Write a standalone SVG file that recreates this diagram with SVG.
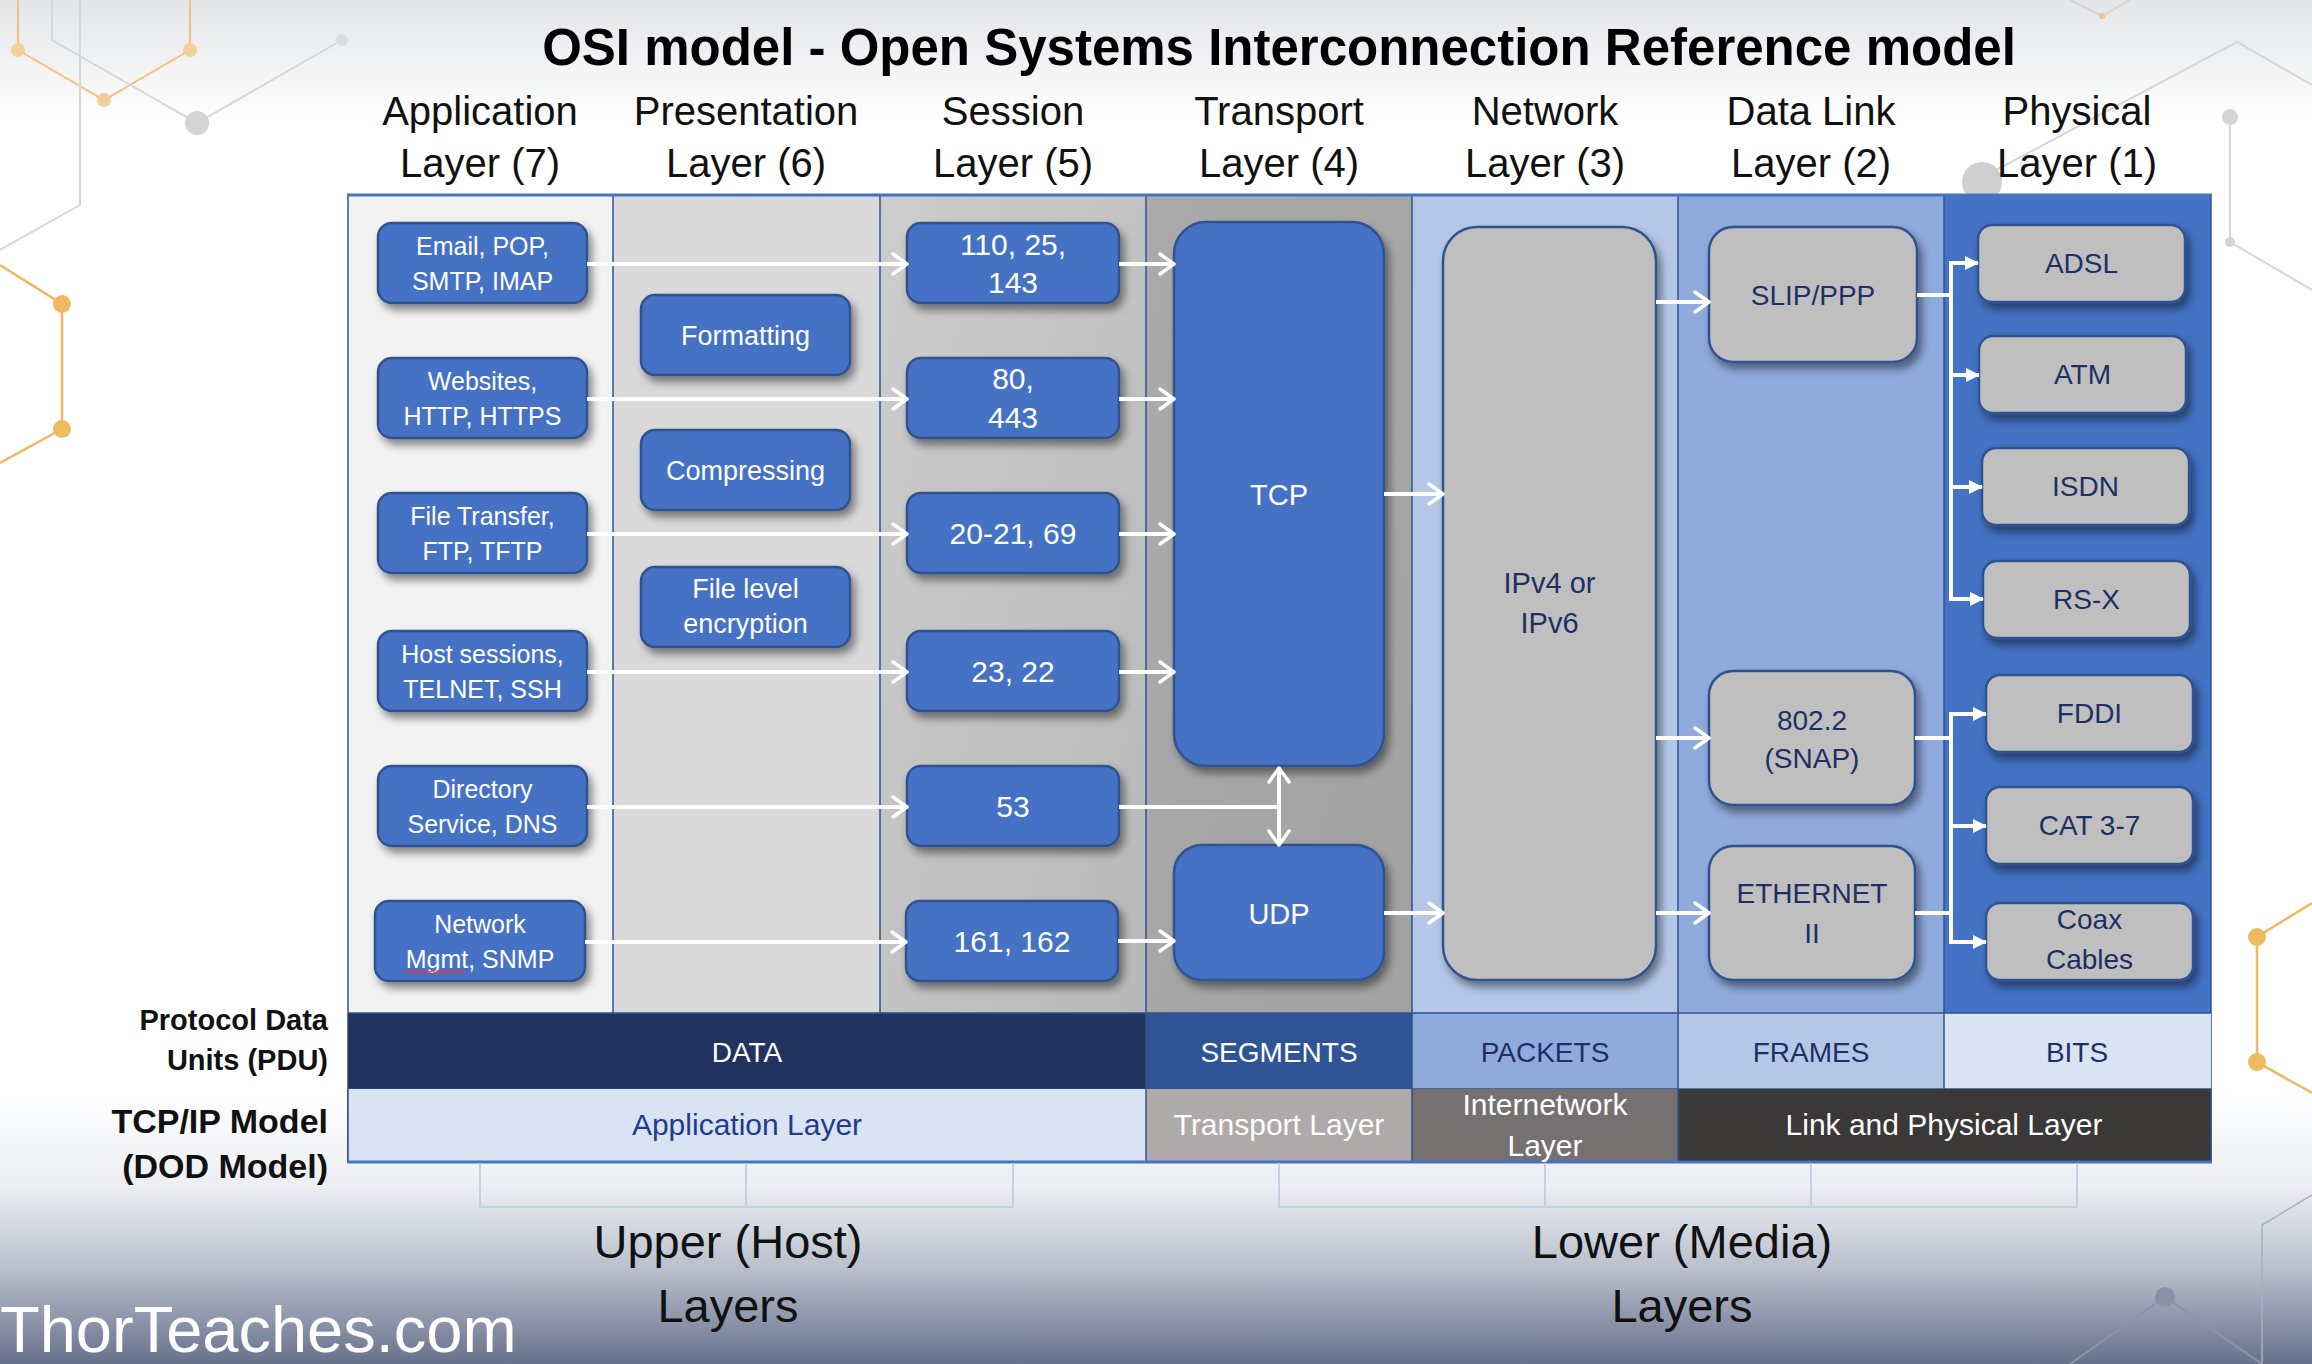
<svg xmlns="http://www.w3.org/2000/svg" width="2312" height="1364" viewBox="0 0 2312 1364" font-family="'Liberation Sans', Arial, sans-serif">
<defs>
<linearGradient id="bg" x1="0" y1="0" x2="0" y2="1">
<stop offset="0" stop-color="#e4e5e7"/>
<stop offset="0.09" stop-color="#ffffff"/>
<stop offset="0.80" stop-color="#ffffff"/>
<stop offset="0.87" stop-color="#eceef2"/>
<stop offset="0.93" stop-color="#b9bfcc"/>
<stop offset="1" stop-color="#66718c"/>
</linearGradient>
<linearGradient id="sess" x1="0" y1="0" x2="1" y2="1">
<stop offset="0" stop-color="#cdcdcd"/>
<stop offset="1" stop-color="#b8b8b8"/>
</linearGradient>
<linearGradient id="trans" x1="0" y1="0" x2="1" y2="1">
<stop offset="0" stop-color="#ababab"/>
<stop offset="1" stop-color="#a2a2a2"/>
</linearGradient>
<filter id="sh" x="-20%" y="-20%" width="150%" height="150%">
<feDropShadow dx="4" dy="6" stdDeviation="4" flood-color="#000" flood-opacity="0.45"/>
</filter>
<marker id="chev" viewBox="0 0 18 24" refX="16" refY="12" markerWidth="18" markerHeight="24" orient="auto-start-reverse" markerUnits="userSpaceOnUse">
<path d="M2,2 L16,12 L2,22" fill="none" stroke="#fff" stroke-width="3.5" stroke-linecap="round" stroke-linejoin="round"/>
</marker>
<marker id="tri" viewBox="0 0 14 14" refX="13" refY="7" markerWidth="14" markerHeight="14" orient="auto" markerUnits="userSpaceOnUse">
<path d="M0,0 L14,7 L0,14 z" fill="#fff"/>
</marker>
<style>
.hd{font-size:40px;fill:#111;text-anchor:middle}
.bb{fill:#4472c4;stroke:#2f528f;stroke-width:2.5;filter:url(#sh)}
.gb{fill:#bfbfbf;stroke:#2f528f;stroke-width:2.5;filter:url(#sh)}
.wt{fill:#fff;text-anchor:middle}
.nt{fill:#1f2f63;text-anchor:middle}
.a{font-size:25px}
.p{font-size:27px}
.s{font-size:30px}
.m{font-size:28px}
.cn{stroke:#fff;stroke-width:4;fill:none}
.ch{marker-end:url(#chev)}
.tr{marker-end:url(#tri)}
.dv{stroke:#2f528f;stroke-width:1.5}
.deco-g{stroke:#d6d6d6;stroke-width:2;fill:none}
.deco-o{stroke:#f2c07a;stroke-width:2;fill:none}
.pdu{font-size:28px;text-anchor:middle}
.tcp{font-size:30px;text-anchor:middle}
.lbl{font-weight:bold;fill:#111;text-anchor:end}
.big{font-size:47px;fill:#111;text-anchor:middle}
.br{stroke:#c5cfe0;stroke-width:2;fill:none}
</style>
</defs>

<rect x="0" y="0" width="2312" height="1364" fill="url(#bg)"/>

<g id="decoration">
<path class="deco-o" d="M18,0 V50 L104,100 L190,50 V0"/>
<circle cx="18" cy="50" r="7" fill="#f3cf9c"/>
<circle cx="104" cy="100" r="7" fill="#f3cf9c"/>
<circle cx="190" cy="50" r="7" fill="#f3cf9c"/>
<path class="deco-g" d="M52,0 V40 L197,123 L342,40"/>
<circle cx="197" cy="123" r="12" fill="#d4d4d4"/>
<circle cx="342" cy="40" r="6" fill="#dcdcdc"/>
<path class="deco-g" d="M80,0 V205 L0,250"/>
<path d="M0,265 L62,304 V429 L0,463" stroke="#f1b95f" stroke-width="2.5" fill="none"/>
<circle cx="62" cy="304" r="9" fill="#f1b95f"/>
<circle cx="62" cy="429" r="9" fill="#f1b95f"/>
<path class="deco-g" d="M2070,0 L2102,16 L2130,0"/>
<circle cx="2102" cy="16" r="3" fill="#e9c39a"/>
<path class="deco-g" d="M1983,177 L2237,42 L2312,85"/>
<circle cx="1982" cy="182" r="20" fill="#cfcfcf"/>
<path class="deco-g" d="M2230,117 V242 L2312,290"/>
<circle cx="2230" cy="117" r="8" fill="#d4d4d4"/>
<circle cx="2230" cy="242" r="5" fill="#d4d4d4"/>
<path d="M2312,903 L2257,937 V1062 L2312,1093" stroke="#f1b95f" stroke-width="2.5" fill="none"/>
<circle cx="2257" cy="937" r="9" fill="#f1b95f"/>
<circle cx="2257" cy="1062" r="9" fill="#f1b95f"/>
<path d="M2070,1364 L2165,1297 L2262,1364" stroke="#8d94aa" stroke-width="2" fill="none"/>
<circle cx="2165" cy="1297" r="10" fill="#8a91a6"/>
<path d="M2262,1364 V1225 L2312,1195" stroke="#a9afc0" stroke-width="1.5" fill="none"/>
</g>

<text id="title" x="1279" y="65" font-size="51" font-weight="bold" fill="#000" text-anchor="middle">OSI model - Open Systems Interconnection Reference model</text>

<g id="headers">
<text class="hd" x="480" y="125">Application</text><text class="hd" x="480" y="177">Layer (7)</text>
<text class="hd" x="746" y="125">Presentation</text><text class="hd" x="746" y="177">Layer (6)</text>
<text class="hd" x="1013" y="125">Session</text><text class="hd" x="1013" y="177">Layer (5)</text>
<text class="hd" x="1279" y="125">Transport</text><text class="hd" x="1279" y="177">Layer (4)</text>
<text class="hd" x="1545" y="125">Network</text><text class="hd" x="1545" y="177">Layer (3)</text>
<text class="hd" x="1811" y="125">Data Link</text><text class="hd" x="1811" y="177">Layer (2)</text>
<text class="hd" x="2077" y="125">Physical</text><text class="hd" x="2077" y="177">Layer (1)</text>
</g>

<g id="table">
<rect x="348" y="195" width="265" height="818" fill="#f2f2f2"/>
<rect x="613" y="195" width="267" height="818" fill="#d9d9d9"/>
<rect x="880" y="195" width="266" height="818" fill="url(#sess)"/>
<rect x="1146" y="195" width="266" height="818" fill="url(#trans)"/>
<rect x="1412" y="195" width="266" height="818" fill="#b4c7e7"/>
<rect x="1678" y="195" width="266" height="818" fill="#8faadc"/>
<rect x="1944" y="195" width="267" height="818" fill="#4472c4"/>
<g class="dv">
<line x1="348" y1="195" x2="348" y2="1162"/>
<line x1="613" y1="195" x2="613" y2="1013"/>
<line x1="880" y1="195" x2="880" y2="1013"/>
<line x1="1146" y1="195" x2="1146" y2="1162"/>
<line x1="1412" y1="195" x2="1412" y2="1162"/>
<line x1="1678" y1="195" x2="1678" y2="1162"/>
<line x1="1944" y1="195" x2="1944" y2="1089"/>
<line x1="2211" y1="195" x2="2211" y2="1162"/>
</g>
<line x1="347" y1="195" x2="2212" y2="195" stroke="#4472c4" stroke-width="3"/>
</g>

<g id="pdu-row">
<rect x="348" y="1013" width="798" height="76" fill="#22335f"/>
<rect x="1146" y="1013" width="266" height="76" fill="#2f5597"/>
<rect x="1412" y="1013" width="266" height="76" fill="#8faadc"/>
<rect x="1678" y="1013" width="266" height="76" fill="#b4c7e7"/>
<rect x="1944" y="1013" width="267" height="76" fill="#dae3f3"/>
<g stroke="#2f528f" stroke-width="1.5">
<line x1="348" y1="1013" x2="2211" y2="1013"/>
<line x1="348" y1="1089" x2="2211" y2="1089"/>
<line x1="1146" y1="1013" x2="1146" y2="1089"/>
<line x1="1412" y1="1013" x2="1412" y2="1089"/>
<line x1="1678" y1="1013" x2="1678" y2="1089"/>
<line x1="1944" y1="1013" x2="1944" y2="1089"/>
</g>
<text class="pdu" x="747" y="1062" fill="#fff">DATA</text>
<text class="pdu" x="1279" y="1062" fill="#fff">SEGMENTS</text>
<text class="pdu" x="1545" y="1062" fill="#1f2f63">PACKETS</text>
<text class="pdu" x="1811" y="1062" fill="#1f2f63">FRAMES</text>
<text class="pdu" x="2077" y="1062" fill="#1f2f63">BITS</text>
</g>

<g id="tcpip-row">
<rect x="348" y="1089" width="798" height="73" fill="#dae3f3"/>
<rect x="1146" y="1089" width="266" height="73" fill="#aeaaaa"/>
<rect x="1412" y="1089" width="266" height="73" fill="#767171"/>
<rect x="1678" y="1089" width="533" height="73" fill="#3b3838"/>
<g stroke="#2f528f" stroke-width="1.5">
<line x1="1146" y1="1089" x2="1146" y2="1162"/>
<line x1="1412" y1="1089" x2="1412" y2="1162"/>
<line x1="1678" y1="1089" x2="1678" y2="1162"/>
<line x1="348" y1="1089" x2="348" y2="1162"/>
<line x1="2211" y1="1089" x2="2211" y2="1162"/>
</g>
<line x1="347" y1="1162" x2="2212" y2="1162" stroke="#4472c4" stroke-width="3"/>
<text class="tcp" x="747" y="1135" fill="#203c8c">Application Layer</text>
<text class="tcp" x="1279" y="1135" fill="#fff">Transport Layer</text>
<text class="tcp" x="1545" y="1115" fill="#fff">Internetwork</text>
<text class="tcp" x="1545" y="1156" fill="#fff">Layer</text>
<text class="tcp" x="1944" y="1135" fill="#fff">Link and Physical Layer</text>
</g>

<g id="row-labels">
<text class="lbl" x="328" y="1030" font-size="29">Protocol Data</text>
<text class="lbl" x="328" y="1070" font-size="29">Units (PDU)</text>
<text class="lbl" x="328" y="1133" font-size="34">TCP/IP Model</text>
<text class="lbl" x="328" y="1178" font-size="34">(DOD Model)</text>
</g>

<g id="app-email"><rect class="bb" x="378" y="223" width="209" height="80" rx="14"/><text class="wt a" x="482.5" y="255">Email, POP,</text><text class="wt a" x="482.5" y="290">SMTP, IMAP</text></g>
<g id="app-web"><rect class="bb" x="378" y="358" width="209" height="80" rx="14"/><text class="wt a" x="482.5" y="390">Websites,</text><text class="wt a" x="482.5" y="425">HTTP, HTTPS</text></g>
<g id="app-ftp"><rect class="bb" x="378" y="493" width="209" height="80" rx="14"/><text class="wt a" x="482.5" y="525">File Transfer,</text><text class="wt a" x="482.5" y="560">FTP, TFTP</text></g>
<g id="app-host"><rect class="bb" x="378" y="631" width="209" height="80" rx="14"/><text class="wt a" x="482.5" y="663">Host sessions,</text><text class="wt a" x="482.5" y="698">TELNET, SSH</text></g>
<g id="app-dns"><rect class="bb" x="378" y="766" width="209" height="80" rx="14"/><text class="wt a" x="482.5" y="798">Directory</text><text class="wt a" x="482.5" y="833">Service, DNS</text></g>
<g id="app-snmp"><rect class="bb" x="375" y="901" width="210" height="80" rx="14"/><text class="wt a" x="480" y="933">Network</text><text class="wt a" x="480" y="968">Mgmt, SNMP</text><path d="M405,973 l3,-2.5 l3,2.5 l3,-2.5 l3,2.5 l3,-2.5 l3,2.5 l3,-2.5 l3,2.5 l3,-2.5 l3,2.5 l3,-2.5 l3,2.5 l3,-2.5 l3,2.5 l3,-2.5 l3,2.5 l3,-2.5 l3,2.5 l3,-2.5 l3,2.5" stroke="#e23b3b" stroke-width="1.4" fill="none"/></g>

<g id="pres-format"><rect class="bb" x="641" y="295" width="209" height="80" rx="14"/><text class="wt p" x="745.5" y="345">Formatting</text></g>
<g id="pres-compress"><rect class="bb" x="641" y="430" width="209" height="80" rx="14"/><text class="wt p" x="745.5" y="480">Compressing</text></g>
<g id="pres-encrypt"><rect class="bb" x="641" y="567" width="209" height="80" rx="14"/><text class="wt p" x="745.5" y="598">File level</text><text class="wt p" x="745.5" y="633">encryption</text></g>

<g id="sess-mail"><rect class="bb" x="907" y="223" width="212" height="80" rx="14"/><text class="wt s" x="1013" y="255">110, 25,</text><text class="wt s" x="1013" y="293">143</text></g>
<g id="sess-web"><rect class="bb" x="907" y="358" width="212" height="80" rx="14"/><text class="wt s" x="1013" y="389">80,</text><text class="wt s" x="1013" y="428">443</text></g>
<g id="sess-ftp"><rect class="bb" x="907" y="493" width="212" height="80" rx="14"/><text class="wt s" x="1013" y="544">20-21, 69</text></g>
<g id="sess-host"><rect class="bb" x="907" y="631" width="212" height="80" rx="14"/><text class="wt s" x="1013" y="682">23, 22</text></g>
<g id="sess-dns"><rect class="bb" x="907" y="766" width="212" height="80" rx="14"/><text class="wt s" x="1013" y="817">53</text></g>
<g id="sess-snmp"><rect class="bb" x="906" y="901" width="212" height="80" rx="14"/><text class="wt s" x="1012" y="952">161, 162</text></g>

<g id="tcp"><rect class="bb" x="1174" y="222" width="210" height="544" rx="32"/><text class="wt" x="1279" y="505" font-size="29">TCP</text></g>
<g id="udp"><rect class="bb" x="1174" y="845" width="210" height="135" rx="28"/><text class="wt" x="1279" y="924" font-size="29">UDP</text></g>

<g id="ip"><rect class="gb" x="1443" y="227" width="213" height="753" rx="34"/><text class="nt" x="1549.5" y="593" font-size="29">IPv4 or</text><text class="nt" x="1549.5" y="633" font-size="29">IPv6</text></g>

<g id="dl-slip"><rect class="gb" x="1709" y="227" width="208" height="135" rx="24"/><text class="nt m" x="1813" y="305">SLIP/PPP</text></g>
<g id="dl-snap"><rect class="gb" x="1709" y="671" width="206" height="134" rx="24"/><text class="nt m" x="1812" y="730">802.2</text><text class="nt m" x="1812" y="768">(SNAP)</text></g>
<g id="dl-eth"><rect class="gb" x="1709" y="846" width="206" height="134" rx="24"/><text class="nt m" x="1812" y="903">ETHERNET</text><text class="nt m" x="1812" y="943">II</text></g>

<g id="ph-adsl"><rect class="gb" x="1978" y="225" width="207" height="77" rx="14"/><text class="nt m" x="2081.5" y="273">ADSL</text></g>
<g id="ph-atm"><rect class="gb" x="1979" y="336" width="207" height="77" rx="14"/><text class="nt m" x="2082.5" y="384">ATM</text></g>
<g id="ph-isdn"><rect class="gb" x="1982" y="448" width="207" height="77" rx="14"/><text class="nt m" x="2085.5" y="496">ISDN</text></g>
<g id="ph-rsx"><rect class="gb" x="1983" y="561" width="207" height="77" rx="14"/><text class="nt m" x="2086.5" y="609">RS-X</text></g>
<g id="ph-fddi"><rect class="gb" x="1986" y="675" width="207" height="77" rx="14"/><text class="nt m" x="2089.5" y="723">FDDI</text></g>
<g id="ph-cat"><rect class="gb" x="1986" y="787" width="207" height="77" rx="14"/><text class="nt m" x="2089.5" y="835">CAT 3-7</text></g>
<g id="ph-coax"><rect class="gb" x="1986" y="903" width="207" height="77" rx="14"/><text class="nt m" x="2089.5" y="929">Coax</text><text class="nt m" x="2089.5" y="969">Cables</text></g>

<g id="connectors">
<line class="cn ch" x1="587" y1="264" x2="907" y2="264"/>
<line class="cn ch" x1="587" y1="399" x2="907" y2="399"/>
<line class="cn ch" x1="587" y1="534" x2="907" y2="534"/>
<line class="cn ch" x1="587" y1="672" x2="907" y2="672"/>
<line class="cn ch" x1="587" y1="807" x2="907" y2="807"/>
<line class="cn ch" x1="585" y1="942" x2="906" y2="942"/>
<line class="cn ch" x1="1119" y1="264" x2="1174" y2="264"/>
<line class="cn ch" x1="1119" y1="399" x2="1174" y2="399"/>
<line class="cn ch" x1="1119" y1="534" x2="1174" y2="534"/>
<line class="cn ch" x1="1119" y1="672" x2="1174" y2="672"/>
<line class="cn ch" x1="1118" y1="941" x2="1174" y2="941"/>
<line class="cn" x1="1119" y1="807" x2="1279" y2="807"/>
<line class="cn ch" x1="1279" y1="807" x2="1279" y2="768"/>
<line class="cn ch" x1="1279" y1="807" x2="1279" y2="845"/>
<line class="cn ch" x1="1384" y1="494" x2="1443" y2="494"/>
<line class="cn ch" x1="1384" y1="913" x2="1443" y2="913"/>
<line class="cn ch" x1="1656" y1="302" x2="1709" y2="302"/>
<line class="cn ch" x1="1656" y1="738" x2="1709" y2="738"/>
<line class="cn ch" x1="1656" y1="913" x2="1709" y2="913"/>
<line class="cn" x1="1917" y1="295" x2="1951" y2="295"/>
<line class="cn" x1="1951" y1="263" x2="1951" y2="599"/>
<line class="cn tr" x1="1949" y1="263" x2="1978" y2="263"/>
<line class="cn tr" x1="1949" y1="375" x2="1979" y2="375"/>
<line class="cn tr" x1="1949" y1="487" x2="1982" y2="487"/>
<line class="cn tr" x1="1949" y1="599" x2="1983" y2="599"/>
<line class="cn" x1="1915" y1="738" x2="1951" y2="738"/>
<line class="cn" x1="1915" y1="913" x2="1951" y2="913"/>
<line class="cn" x1="1951" y1="714" x2="1951" y2="942"/>
<line class="cn tr" x1="1949" y1="714" x2="1986" y2="714"/>
<line class="cn tr" x1="1949" y1="826" x2="1986" y2="826"/>
<line class="cn tr" x1="1949" y1="942" x2="1986" y2="942"/>
</g>

<g id="brackets">
<path class="br" d="M480,1163 V1207 H1013 V1163 M746,1163 V1207"/>
<path class="br" d="M1279,1163 V1207 H2077 V1163 M1545,1163 V1207 M1811,1163 V1207"/>
<text class="big" x="728" y="1258">Upper (Host)</text>
<text class="big" x="728" y="1322">Layers</text>
<text class="big" x="1682" y="1258">Lower (Media)</text>
<text class="big" x="1682" y="1322">Layers</text>
</g>

<text id="watermark" x="0" y="1352" font-size="65" fill="#fff">ThorTeaches.com</text>
</svg>
